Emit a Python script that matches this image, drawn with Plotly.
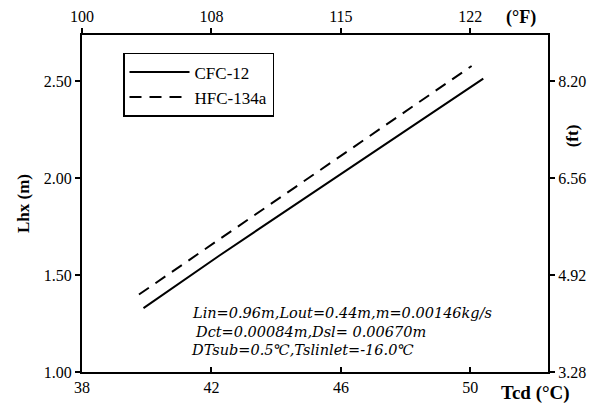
import plotly.graph_objects as go

# Data
cfc_T = [39.9, 42.26, 50.4]
cfc_L = [1.33, 1.603, 2.515]
hfc_T = [39.76, 50.04]
hfc_L = [1.40, 2.58]

x_ticks = [38, 42, 46, 50]
x_tick_text = ["38", "42", "46", "50"]
f_tick_text = ["100", "108", "115", "122"]
y_ticks = [1.00, 1.50, 2.00, 2.50]
y_tick_text = ["1.00", "1.50", "2.00", "2.50"]
ft_ticks = [3.28, 4.92, 6.56, 8.20]
ft_tick_text = ["3.28", "4.92", "6.56", "8.20"]

x_range = [38, 52.4]
y_range = [1.0, 2.74]
M_TO_FT = 3.28

FONT = "Liberation Serif"

fig = go.Figure()
fig.add_trace(go.Scatter(x=cfc_T, y=cfc_L, mode="lines", name="CFC-12",
                         line=dict(color="black", width=2)))
fig.add_trace(go.Scatter(x=hfc_T, y=hfc_L, mode="lines", name="HFC-134a",
                         line=dict(color="black", width=2, dash="12px,8px")))
# invisible trace to anchor the secondary axes
fig.add_trace(go.Scatter(x=[x_range[0]], y=[y_range[0] * M_TO_FT], xaxis="x2", yaxis="y2",
                         mode="markers", marker=dict(opacity=0), showlegend=False,
                         hoverinfo="skip"))

axis_common = dict(showgrid=False, zeroline=False, showline=True, linecolor="black",
                   linewidth=2, ticks="outside", tickcolor="black", tickwidth=1.5,
                   ticklen=5, tickfont=dict(family=FONT, size=16, color="black"),
                   automargin=False)

fig.update_layout(
    width=589, height=397,
    margin=dict(l=74, r=49, t=27, b=33),
    paper_bgcolor="white", plot_bgcolor="white",
    font=dict(family=FONT, color="black"),
    xaxis=dict(range=x_range, tickvals=x_ticks, ticktext=x_tick_text, **{**axis_common, "ticks": "inside"}),
    xaxis2=dict(range=x_range, tickvals=x_ticks, ticktext=f_tick_text, overlaying="x",
                side="top", anchor="y", **axis_common),
    yaxis=dict(range=y_range, tickvals=y_ticks, ticktext=y_tick_text,
               title=dict(text="<b>Lhx (m)</b>", font=dict(family=FONT, size=17), standoff=10),
               **axis_common),
    yaxis2=dict(range=[y_range[0] * M_TO_FT, y_range[1] * M_TO_FT], tickvals=ft_ticks,
                ticktext=ft_tick_text, overlaying="y", side="right", anchor="x", **axis_common),
    legend=dict(x=0.088, y=0.947, xanchor="left", yanchor="top",
                bordercolor="black", borderwidth=1.5, bgcolor="white",
                font=dict(family=FONT, size=17, color="black"), tracegroupgap=0,
                itemwidth=60),
    showlegend=True,
)

ann_font = dict(family="DejaVu Serif", size=14.5, color="black")
fig.add_annotation(xref="paper", yref="paper", x=0.232, y=0.175, xanchor="left", yanchor="middle",
                   text="<i>Lin=0.96m,Lout=0.44m,m=0.00146kg/s</i>", showarrow=False, font=ann_font)
fig.add_annotation(xref="paper", yref="paper", x=0.238, y=0.119, xanchor="left", yanchor="middle",
                   text="<i>Dct=0.00084m,Dsl= 0.00670m</i>", showarrow=False, font=ann_font)
fig.add_annotation(xref="paper", yref="paper", x=0.229, y=0.065, xanchor="left", yanchor="middle",
                   text="<i>DTsub=0.5\u2103,Tslinlet=-16.0\u2103</i>", showarrow=False, font=ann_font)

fig.add_annotation(xref="paper", yref="paper", x=0.895, y=-0.025, xanchor="left", yanchor="top",
                   text="<b>Tcd (\u00b0C)</b>", showarrow=False,
                   font=dict(family=FONT, size=19, color="black"))
fig.add_annotation(xref="paper", yref="paper", x=0.905, y=1.015, xanchor="left", yanchor="bottom",
                   text="<b>(\u00b0F)</b>", showarrow=False,
                   font=dict(family=FONT, size=18, color="black"))
fig.add_annotation(xref="paper", yref="paper", x=1.052, y=0.70, xanchor="center", yanchor="middle",
                   text="<b>(ft)</b>", showarrow=False, textangle=-90,
                   font=dict(family=FONT, size=17, color="black"))

fig.write_html("out.html")
